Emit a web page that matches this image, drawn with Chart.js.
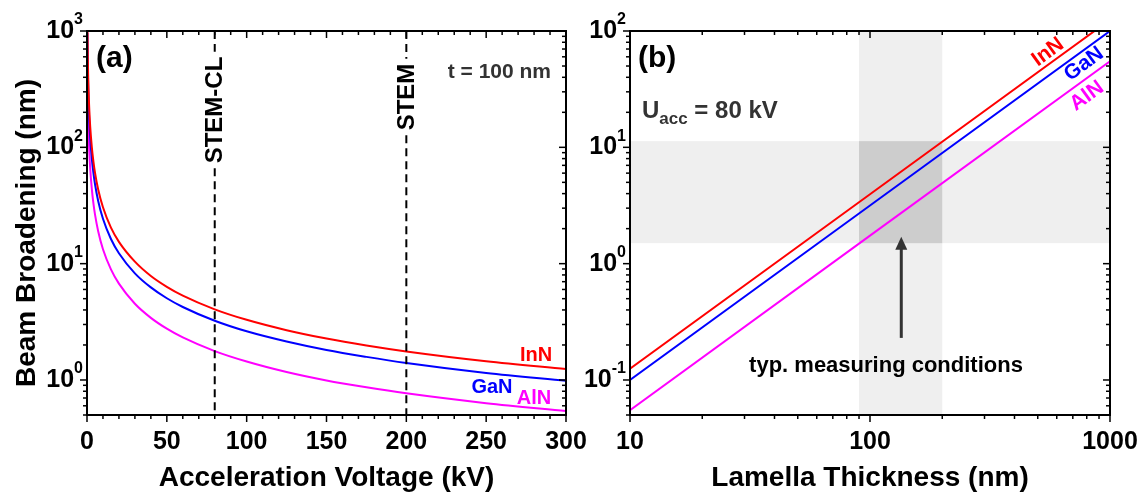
<!DOCTYPE html>
<html>
<head>
<meta charset="utf-8">
<script src="https://cdn.jsdelivr.net/npm/chart.js@4.4.0/dist/chart.umd.min.js"></script>
<style>
  body { margin: 0; background: #fff; }
  #wrap { position: relative; width: 1143px; height: 497px; overflow: hidden; }
  canvas { position: absolute; top: 0; }
  #c1 { left: 0; }
  #c2 { left: 571px; }
</style>
</head>
<body>
<div id="wrap">
  <canvas id="c1" width="600" height="497"></canvas>
  <canvas id="c2" width="572" height="497"></canvas>
</div>
<script>
const FONT = "'Liberation Sans', Arial, sans-serif";

// (a) broadening vs acceleration voltage, t = 100 nm
const voltage = [0.25, 0.5, 1, 1.5, 2, 3, 4, 5, 7, 10, 15, 20, 30, 40, 50, 60, 80, 100, 125, 150, 175, 200, 250, 300];
const inN_a = [1210, 604, 302, 202, 151, 101, 75.8, 60.7, 43.4, 30.5, 20.4, 15.4, 10.4, 7.83, 6.32, 5.31, 4.05, 3.29, 2.68, 2.27, 1.98, 1.76, 1.45, 1.24];
const gaN_a = [964, 482, 241, 161, 121, 80.5, 60.5, 48.4, 34.6, 24.3, 16.3, 12.3, 8.26, 6.25, 5.04, 4.24, 3.23, 2.62, 2.14, 1.81, 1.58, 1.40, 1.15, 0.985];
const alN_a = [528, 264, 132, 88, 66, 44.1, 33.1, 26.5, 19.0, 13.3, 8.93, 6.73, 4.52, 3.42, 2.76, 2.32, 1.77, 1.44, 1.17, 0.99, 0.865, 0.768, 0.632, 0.54];
const markerKV = [80, 200];
const markerText = ['STEM-CL', 'STEM'];

// (b) broadening vs lamella thickness, U = 80 kV
const thickness = [10, 100, 1000];
const inN_b = [0.125, 3.95, 125];
const gaN_b = [0.1, 3.16, 100];
const alN_b = [0.055, 1.74, 55];
const thickBand = [90, 200];
const broadBand = [1.5, 11.3];
const arrowAt = [135, 0.23, 1.7]; // x, from y, to y

const RED = '#ff0000', BLUE = '#0000ff', MAG = '#ff00ff';

function pts(xs, ys) { return xs.map((x, i) => ({x: x, y: ys[i]})); }

function logTicks(min, max) {
  const out = [];
  for (let e = Math.floor(Math.log10(min)) - 1; e <= Math.ceil(Math.log10(max)); e++) {
    for (let m = 1; m < 10; m++) {
      const v = m * Math.pow(10, e);
      if (v >= min * 0.999 && v <= max * 1.001) out.push({v: v, major: m === 1, e: e});
    }
  }
  return out;
}
function linTicks(min, max, minor, major) {
  const out = [];
  for (let v = min; v <= max + 1e-9; v += minor) out.push({v: v, major: Math.abs(v % major) < 1e-9});
  return out;
}

function seg(ctx, x1, y1, x2, y2) {
  ctx.beginPath(); ctx.moveTo(x1, y1); ctx.lineTo(x2, y2); ctx.stroke();
}

// box, mirrored ticks and 10^n labels
const frame = {
  id: 'frame',
  afterDatasetsDraw(chart) {
    const {ctx, chartArea: a, scales: {x, y}} = chart;
    ctx.save();
    ctx.strokeStyle = '#000';
    ctx.lineWidth = 1.5;
    const xt = x.type === 'logarithmic' ? logTicks(x.min, x.max) : linTicks(x.min, x.max, 10, 50);
    xt.forEach(t => {
      const px = x.getPixelForValue(t.v), L = t.major ? 7 : 4;
      seg(ctx, px, a.bottom, px, a.bottom + L);
      seg(ctx, px, a.top, px, a.top + L);
    });
    logTicks(y.min, y.max).forEach(t => {
      const py = y.getPixelForValue(t.v), L = t.major ? 7 : 4;
      seg(ctx, a.left - L, py, a.left, py);
      seg(ctx, a.right - L, py, a.right, py);
    });
    ctx.lineWidth = 2;
    ctx.strokeRect(a.left, a.top, a.right - a.left, a.bottom - a.top);

    ctx.fillStyle = '#000';
    ctx.textAlign = 'right';
    ctx.textBaseline = 'middle';
    logTicks(y.min, y.max).filter(t => t.major).forEach(t => {
      const py = y.getPixelForValue(t.v);
      const sup = String(t.e);
      ctx.font = 'bold 16px ' + FONT;
      const sw = ctx.measureText(sup).width;
      ctx.fillText(sup, a.left - 4, py - 11);
      ctx.font = 'bold 25px ' + FONT;
      ctx.fillText('10', a.left - 4 - sw, py);
    });
    ctx.restore();
  }
};

function baseScales(xOpts, yOpts, xTitle) {
  return {
    x: Object.assign({
      grid: {display: false, drawTicks: false},
      border: {display: false},
      ticks: {color: '#000', font: {family: FONT, size: 25, weight: 'bold'}, padding: 12, maxRotation: 0, autoSkip: false},
      title: {display: true, text: xTitle, color: '#000', font: {family: FONT, size: 28, weight: 'bold'}, padding: {top: 0, bottom: 2}},
      afterFit(s) { s.height = 82; s.paddingLeft = 0; s.paddingRight = 0; }
    }, xOpts),
    y: Object.assign({
      grid: {display: false, drawTicks: false},
      border: {display: false},
      ticks: {display: false},
      afterFit(s) { s.width = yOpts.fitWidth; s.paddingTop = 0; s.paddingBottom = 0; }
    }, yOpts)
  };
}

const common = {
  responsive: false,
  animation: false,
  events: [],
  plugins: {legend: {display: false}, tooltip: {enabled: false}}
};

function ds(data, color, smooth) {
  return {data: data, showLine: true, borderColor: color, borderWidth: 2, pointRadius: 0,
    fill: false, cubicInterpolationMode: smooth ? 'monotone' : 'default', tension: 0};
}

// ---------- panel (a) ----------
const annotA = {
  id: 'annotA',
  afterDatasetsDraw(chart) {
    const {ctx, chartArea: a, scales: {x}} = chart;
    ctx.save();
    // y axis title
    ctx.save();
    ctx.translate(27, 233);
    ctx.rotate(-Math.PI / 2);
    ctx.fillStyle = '#000';
    ctx.textAlign = 'center';
    ctx.textBaseline = 'middle';
    ctx.font = 'bold 28px ' + FONT;
    ctx.fillText('Beam Broadening (nm)', 0, 0);
    ctx.restore();
    // dashed markers with rotated labels
    const labelY = [110, 97];
    ctx.font = 'bold 24px ' + FONT;
    markerKV.forEach((kv, i) => {
      const px = x.getPixelForValue(kv);
      const w = ctx.measureText(markerText[i]).width;
      ctx.strokeStyle = '#000';
      ctx.lineWidth = 2;
      ctx.setLineDash([8, 5]);
      seg(ctx, px, a.top, px, labelY[i] - w / 2 - 5);
      seg(ctx, px, labelY[i] + w / 2 + 5, px, a.bottom);
      ctx.setLineDash([]);
      ctx.save();
      ctx.translate(px, labelY[i]);
      ctx.rotate(-Math.PI / 2);
      ctx.fillStyle = '#000';
      ctx.textAlign = 'center';
      ctx.textBaseline = 'middle';
      ctx.fillText(markerText[i], 0, 1);
      ctx.restore();
    });
    ctx.textBaseline = 'middle';
    ctx.fillStyle = '#000';
    ctx.textAlign = 'left';
    ctx.font = 'bold 30px ' + FONT;
    ctx.fillText('(a)', 96, 59);
    ctx.fillStyle = '#333';
    ctx.textAlign = 'right';
    ctx.font = 'bold 21px ' + FONT;
    ctx.fillText('t = 100 nm', 551, 72);
    ctx.font = 'bold 20px ' + FONT;
    ctx.textAlign = 'center';
    ctx.fillStyle = RED; ctx.fillText('InN', 536, 355);
    ctx.fillStyle = BLUE; ctx.fillText('GaN', 492, 387);
    ctx.fillStyle = MAG; ctx.fillText('AlN', 534, 398);
    ctx.restore();
  }
};

new Chart(document.getElementById('c1'), {
  type: 'scatter',
  data: {datasets: [ds(pts(voltage, inN_a), RED, true), ds(pts(voltage, gaN_a), BLUE, true), ds(pts(voltage, alN_a), MAG, true)]},
  options: Object.assign({}, common, {
    layout: {padding: {left: 0, top: 31, right: 34, bottom: 0}},
    scales: baseScales(
      {type: 'linear', min: 0, max: 300, ticks: {color: '#000', font: {family: FONT, size: 25, weight: 'bold'}, padding: 12, stepSize: 50, maxRotation: 0}},
      {type: 'logarithmic', min: 0.5, max: 1000, fitWidth: 87},
      'Acceleration Voltage (kV)')
  }),
  plugins: [frame, annotA]
});

// ---------- panel (b) ----------
const bands = {
  id: 'bands',
  beforeDatasetsDraw(chart) {
    const {ctx, chartArea: a, scales: {x, y}} = chart;
    const x1 = x.getPixelForValue(thickBand[0]), x2 = x.getPixelForValue(thickBand[1]);
    const y1 = y.getPixelForValue(broadBand[1]), y2 = y.getPixelForValue(broadBand[0]);
    ctx.save();
    ctx.fillStyle = '#efefef';
    ctx.fillRect(x1, a.top, x2 - x1, a.bottom - a.top);
    ctx.fillRect(a.left, y1, a.right - a.left, y2 - y1);
    ctx.fillStyle = '#cdcdcd';
    ctx.fillRect(x1, y1, x2 - x1, y2 - y1);
    ctx.restore();
  }
};

const annotB = {
  id: 'annotB',
  afterDatasetsDraw(chart) {
    const {ctx, scales: {x, y}} = chart;
    const off = 571;
    ctx.save();
    ctx.textBaseline = 'middle';
    ctx.fillStyle = '#000';
    ctx.font = 'bold 30px ' + FONT;
    ctx.fillText('(b)', 638 - off, 59);
    // U_acc = 80 kV
    ctx.fillStyle = '#333';
    ctx.textBaseline = 'alphabetic';
    ctx.font = 'bold 24px ' + FONT;
    let cx = 642 - off;
    ctx.fillText('U', cx, 118);
    cx += ctx.measureText('U').width;
    ctx.font = 'bold 17px ' + FONT;
    ctx.fillText('acc', cx, 124);
    cx += ctx.measureText('acc').width;
    ctx.font = 'bold 24px ' + FONT;
    ctx.fillText(' = 80 kV', cx, 118);
    // arrow
    const ax = x.getPixelForValue(arrowAt[0]);
    const ay1 = y.getPixelForValue(arrowAt[1]), ay2 = y.getPixelForValue(arrowAt[2]);
    ctx.strokeStyle = '#333';
    ctx.fillStyle = '#333';
    ctx.lineWidth = 3;
    seg(ctx, ax, ay1, ax, ay2 + 10);
    ctx.beginPath();
    ctx.moveTo(ax, ay2); ctx.lineTo(ax - 6, ay2 + 13); ctx.lineTo(ax + 6, ay2 + 13); ctx.closePath();
    ctx.fill();
    ctx.fillStyle = '#000';
    ctx.textAlign = 'center';
    ctx.textBaseline = 'middle';
    ctx.font = 'bold 22px ' + FONT;
    ctx.fillText('typ. measuring conditions', 886 - off, 366);
    // rotated line labels
    const ang = Math.atan2(y.getPixelForValue(gaN_b[2]) - y.getPixelForValue(gaN_b[0]),
                           x.getPixelForValue(thickness[2]) - x.getPixelForValue(thickness[0]));
    ctx.font = 'bold 21px ' + FONT;
    [['InN', RED, 1048, 52], ['GaN', BLUE, 1084, 64], ['AlN', MAG, 1087, 96]].forEach(l => {
      ctx.save();
      ctx.translate(l[2] - off, l[3]);
      ctx.rotate(ang);
      ctx.fillStyle = l[1];
      ctx.fillText(l[0], 0, 0);
      ctx.restore();
    });
    ctx.restore();
  }
};

new Chart(document.getElementById('c2'), {
  type: 'scatter',
  data: {datasets: [ds(pts(thickness, inN_b), RED, false), ds(pts(thickness, gaN_b), BLUE, false), ds(pts(thickness, alN_b), MAG, false)]},
  options: Object.assign({}, common, {
    layout: {padding: {left: 0, top: 31, right: 33, bottom: 0}},
    scales: baseScales(
      {type: 'logarithmic', min: 10, max: 1000,
       ticks: {color: '#000', font: {family: FONT, size: 25, weight: 'bold'}, padding: 12, maxRotation: 0, autoSkip: false,
               callback: v => ([10, 100, 1000].includes(v) ? String(v) : '')}},
      {type: 'logarithmic', min: 0.05, max: 100, fitWidth: 59},
      'Lamella Thickness (nm)')
  }),
  plugins: [bands, frame, annotB]
});
</script>
</body>
</html>
